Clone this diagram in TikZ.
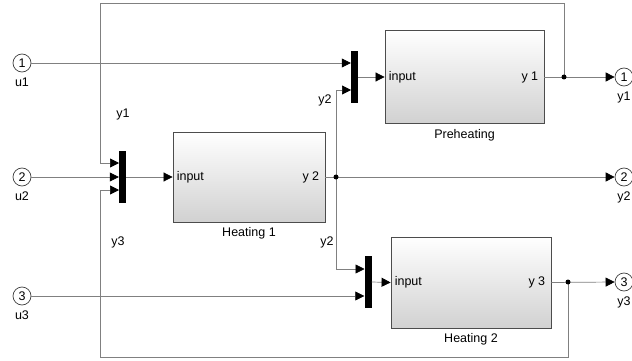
\documentclass[tikz,border=0pt]{standalone}
\usepackage{fontspec}
\setmainfont{Liberation Sans}
\usetikzlibrary{arrows.meta, positioning}

\begin{document}
\begin{tikzpicture}[x=1pt, y=-1pt, font=\fontsize{12.5}{14}\selectfont,
    sig/.style={draw=black!50, line width=0.7pt},
    tip/.style={-{Triangle[length=9pt,width=9pt,color=black]}},
    port/.style={circle, draw=black!75, fill=white, line width=0.7pt, minimum size=18pt, inner sep=0pt},
    muxbar/.style={fill=black, minimum width=7pt, minimum height=52pt, inner sep=0pt},
    subsys/.style={draw=black!70, line width=0.8pt, top color=white, bottom color=black!18, inner sep=0pt},
    txt/.style={inner sep=1pt},
    dot/.style={circle, fill=black, inner sep=0pt, minimum size=5pt}]
    \useasboundingbox (0,0) rectangle (632,361);

    % Inports
    \node[port] (in1) at (22,63) {1};
    \node[port] (in2) at (22,177) {2};
    \node[port] (in3) at (22,296) {3};
    \node[txt, below=4pt of in1] (u1) {u1};
    \node[txt, below=4pt of in2] (u2) {u2};
    \node[txt, below=4pt of in3] (u3) {u3};

    % Outports
    \node[port] (out1) at (624,77) {1};
    \node[port] (out2) at (624,177) {2};
    \node[port] (out3) at (624,282) {3};
    \node[txt, below=4pt of out1] (y1o) {y1};
    \node[txt, below=4pt of out2] (y2o) {y2};
    \node[txt, below=4pt of out3] (y3o) {y3};

    % Mux bars
    \node[muxbar] (mux1) at (122.5,177) {};
    \node[muxbar] (mux2) at (354.5,77) {};
    \node[muxbar] (mux3) at (368,282) {};
    \coordinate (m1a) at (119,163);
    \coordinate (m1c) at (119,190);
    \coordinate (m2b) at (351,90);
    \coordinate (m3a) at (364.5,269);

    % Subsystems
    \node[subsys, minimum width=152pt, minimum height=90pt] (heat1) at (249,177) {};
    \node[subsys, minimum width=159pt, minimum height=93pt] (preh) at (464.5,77) {};
    \node[subsys, minimum width=160pt, minimum height=91pt] (heat2) at (471,282.5) {};
    \node[txt, anchor=west] (h1in) at ([xshift=3pt]heat1.west) {input};
    \node[txt, anchor=east] (h1out) at ([xshift=-5pt]heat1.east) {y 2};
    \node[txt, anchor=west] (phin) at ([xshift=3pt]preh.west) {input};
    \node[txt, anchor=east] (phout) at ([xshift=-5pt]preh.east) {y 1};
    \node[txt, anchor=west] (h2in) at ([xshift=3pt]heat2.west) {input};
    \node[txt, anchor=east] (h2out) at ([xshift=-5pt]heat2.east) {y 3};
    \node[below=2pt of heat1] (h1name) {Heating 1};
    \node[below=2pt of preh] (phname) {Preheating};
    \node[below=2pt of heat2] (h2name) {Heating 2};

    % Branch points
    \coordinate (j1) at (564,77);
    \coordinate (j2) at (336,177);
    \coordinate (j3) at (568,282);
    \coordinate (top) at (100,3);
    \coordinate (bot) at (100,357);

    % Signals
    \draw[sig, tip] (in1.east) -- (in1 -| mux2.west);
    \draw[sig, tip] (in2.east) -- (mux1.west);
    \draw[sig, tip] (in3.east) -- (in3 -| mux3.west);
    \draw[sig, tip] (mux1.east) -- (heat1.west);
    \draw[sig, tip] (mux2.east) -- (preh.west);
    \draw[sig, tip] (mux3.east) -- (heat2.west);
    \draw[sig, tip] (preh.east) -- (out1.west);
    \draw[sig, tip] (heat1.east) -- (out2.west);
    \draw[sig, tip] (heat2.east) -- (out3.west);
    \draw[sig, tip] (j2) |- (m2b);
    \draw[sig, tip] (j2) |- (m3a);
    \draw[sig, tip] (j1) |- (top) |- (m1a);
    \draw[sig, tip] (j3) |- (bot) |- (m1c);
    \node[dot] (d1) at (j1) {};
    \node[dot] (d2) at (j2) {};
    \node[dot] (d3) at (j3) {};

    % Signal names
    \node[txt] (s1) at (123,114) {y1};
    \node[txt] (s3) at (118,242) {y3};
    \node[txt] (s2a) at (325,100) {y2};
    \node[txt] (s2b) at (327,242) {y2};
\end{tikzpicture}
\end{document}
